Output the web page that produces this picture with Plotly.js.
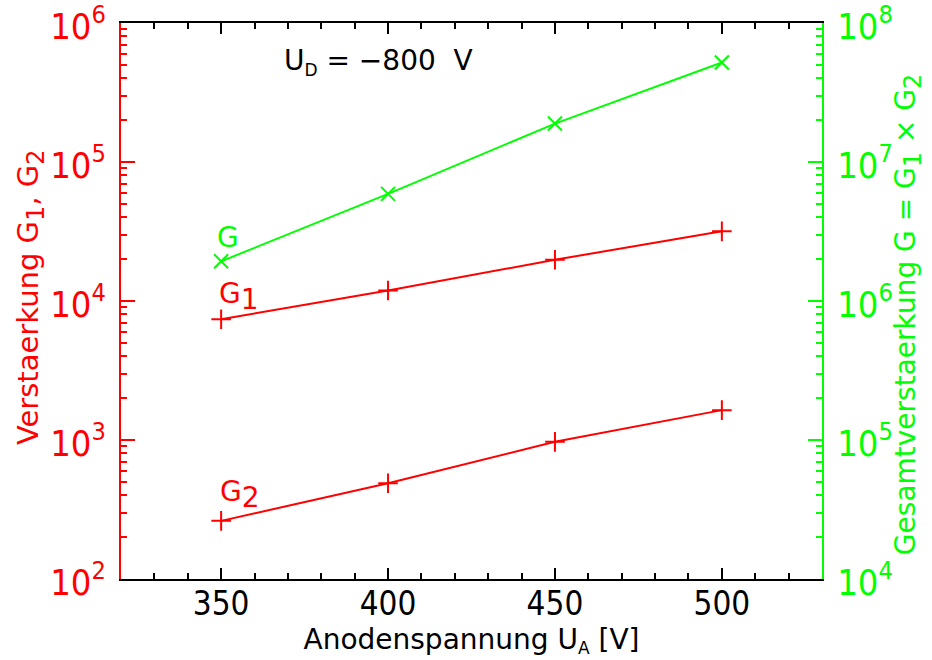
<!DOCTYPE html>
<html>
<head>
<meta charset="utf-8">
<script src="https://cdn.plot.ly/plotly-3.0.1.min.js"></script>
<style>
  html, body { margin: 0; padding: 0; background: #ffffff; }
  #chart { width: 932px; height: 660px; }
</style>
</head>
<body>
<div id="chart"></div>
<script>
// Anode voltage [V]
const anodeVoltage = [350, 400, 450, 500];
// Gain of stage 1 and stage 2
const gainG1 = [7400, 11900, 19800, 31700];
const gainG2 = [262, 488, 970, 1640];
// Total gain G = G1 x G2
const gainTotal = [1.93e6, 5.9e6, 1.89e7, 5.2e7];

// Axis tick labels
const leftExponents = [2, 3, 4, 5, 6];
const rightExponents = [4, 5, 6, 7, 8];
const xTickVals = [350, 400, 450, 500];
const mantissas = [2, 3, 4, 5, 6, 7, 8, 9];

const RED = '#ff0000';
const GREEN = '#00ff00';
const FONT = 'DejaVu Sans, Liberation Sans, sans-serif';
const NARROW = 'Liberation Sans Narrow, DejaVu Sans Condensed, Liberation Sans, sans-serif';

const decadeVals = exps => exps.map(e => Math.pow(10, e));
const minorVals = exps => {
  const out = [];
  exps.slice(0, -1).forEach(e => mantissas.forEach(m => out.push(m * Math.pow(10, e))));
  return out;
};
const pow10 = e => '10<sup>' + e + '</sup>';
const sub = (s, px) => '<sub><span style="font-size:' + px + 'px">' + s + '</span></sub>';

const traces = [
  {
    x: anodeVoltage, y: gainG1, yaxis: 'y', type: 'scatter', mode: 'lines+markers',
    line: {color: RED, width: 2},
    marker: {symbol: 'cross-thin-open', size: 14, color: RED, line: {color: RED, width: 2}},
    hoverinfo: 'skip'
  },
  {
    x: anodeVoltage, y: gainG2, yaxis: 'y', type: 'scatter', mode: 'lines+markers',
    line: {color: RED, width: 2},
    marker: {symbol: 'cross-thin-open', size: 14, color: RED, line: {color: RED, width: 2}},
    hoverinfo: 'skip'
  },
  {
    x: anodeVoltage, y: gainTotal, yaxis: 'y2', type: 'scatter', mode: 'lines+markers',
    line: {color: GREEN, width: 2},
    marker: {symbol: 'x-thin-open', size: 14, color: GREEN, line: {color: GREEN, width: 2}},
    hoverinfo: 'skip'
  }
];

const EPS = 1e-5;

const layout = {
  width: 932, height: 660,
  margin: {l: 121, r: 110, t: 23, b: 81, pad: 0},
  paper_bgcolor: '#ffffff', plot_bgcolor: '#ffffff',
  showlegend: false,
  font: {family: FONT, size: 28, color: '#000000'},
  xaxis: {
    range: [320, 530],
    tickvals: xTickVals,
    ticktext: xTickVals.map(String),
    ticks: 'inside', ticklen: 11, tickwidth: 2, tickcolor: '#000000',
    minor: {dtick: 10, tick0: 320, ticks: 'inside', ticklen: 6, tickwidth: 2, tickcolor: '#000000', showgrid: false},
    showline: true, linecolor: '#000000', linewidth: 2, mirror: 'ticks',
    showgrid: false, zeroline: false,
    ticklabelstandoff: -6,
    tickfont: {family: NARROW, size: 33, color: '#000000'},
    title: {text: 'Anodenspannung U' + sub('A', 17) + ' [V]', font: {family: FONT, size: 28, color: '#000000'}, standoff: 4}
  },
  yaxis: {
    type: 'log', range: [2 - EPS, 6 + EPS],
    tickvals: decadeVals(leftExponents),
    ticktext: leftExponents.map(pow10),
    ticks: 'inside', ticklen: 14, tickwidth: 2, tickcolor: RED,
    minor: {tickmode: 'array', tickvals: minorVals(leftExponents), ticks: 'inside', ticklen: 6, tickwidth: 2, tickcolor: RED, showgrid: false},
    showline: true, linecolor: RED, linewidth: 2, mirror: false,
    showgrid: false, zeroline: false,
    ticklabeloverflow: 'allow',
    ticklabelstandoff: 6,
    ticklabelshift: 3,
    tickfont: {family: NARROW, size: 36, color: RED}
  },
  yaxis2: {
    type: 'log', range: [4 - EPS, 8 + EPS],
    overlaying: 'y', side: 'right',
    tickvals: decadeVals(rightExponents),
    ticktext: rightExponents.map(pow10),
    ticks: 'inside', ticklen: 14, tickwidth: 2, tickcolor: GREEN,
    minor: {tickmode: 'array', tickvals: minorVals(rightExponents), ticks: 'inside', ticklen: 6, tickwidth: 2, tickcolor: GREEN, showgrid: false},
    showline: true, linecolor: GREEN, linewidth: 2,
    showgrid: false, zeroline: false,
    ticklabeloverflow: 'allow',
    ticklabelstandoff: 6,
    ticklabelshift: 3,
    tickfont: {family: NARROW, size: 36, color: GREEN}
  },
  annotations: [
    // left-hand axis title
    {xref: 'paper', yref: 'paper', x: -0.1298, y: 0.507, xanchor: 'center', yanchor: 'middle', showarrow: false,
     textangle: -90,
     text: 'Verstaerkung G' + sub('1', 24) + ', G' + sub('2', 24), font: {family: FONT, size: 29, color: RED}},
    // right-hand axis title
    {xref: 'paper', yref: 'paper', x: 1.1227, y: 0.4746, xanchor: 'center', yanchor: 'middle', showarrow: false,
     textangle: -90,
     text: 'Gesamtverstaerkung G = G' + sub('1', 24) + ' \u00d7 G' + sub('2', 24), font: {family: FONT, size: 28, color: GREEN}},
    {xref: 'paper', yref: 'paper', x: 0.367, y: 0.929, xanchor: 'center', yanchor: 'middle', showarrow: false,
     text: 'U' + sub('D', 17) + '\u00a0=\u00a0\u2212800\u00a0\u00a0V', font: {family: FONT, size: 28, color: '#000000'}},
    {xref: 'paper', yref: 'paper', x: 0.153, y: 0.615, xanchor: 'center', yanchor: 'middle', showarrow: false,
     text: 'G', font: {family: FONT, size: 28, color: GREEN}},
    {xref: 'paper', yref: 'paper', x: 0.168, y: 0.508, xanchor: 'center', yanchor: 'middle', showarrow: false,
     text: 'G' + sub('1', 28), font: {family: FONT, size: 28, color: RED}},
    {xref: 'paper', yref: 'paper', x: 0.170, y: 0.152, xanchor: 'center', yanchor: 'middle', showarrow: false,
     text: 'G' + sub('2', 28), font: {family: FONT, size: 28, color: RED}}
  ]
};

Plotly.newPlot('chart', traces, layout, {staticPlot: true, displayModeBar: false});
</script>
</body>
</html>
